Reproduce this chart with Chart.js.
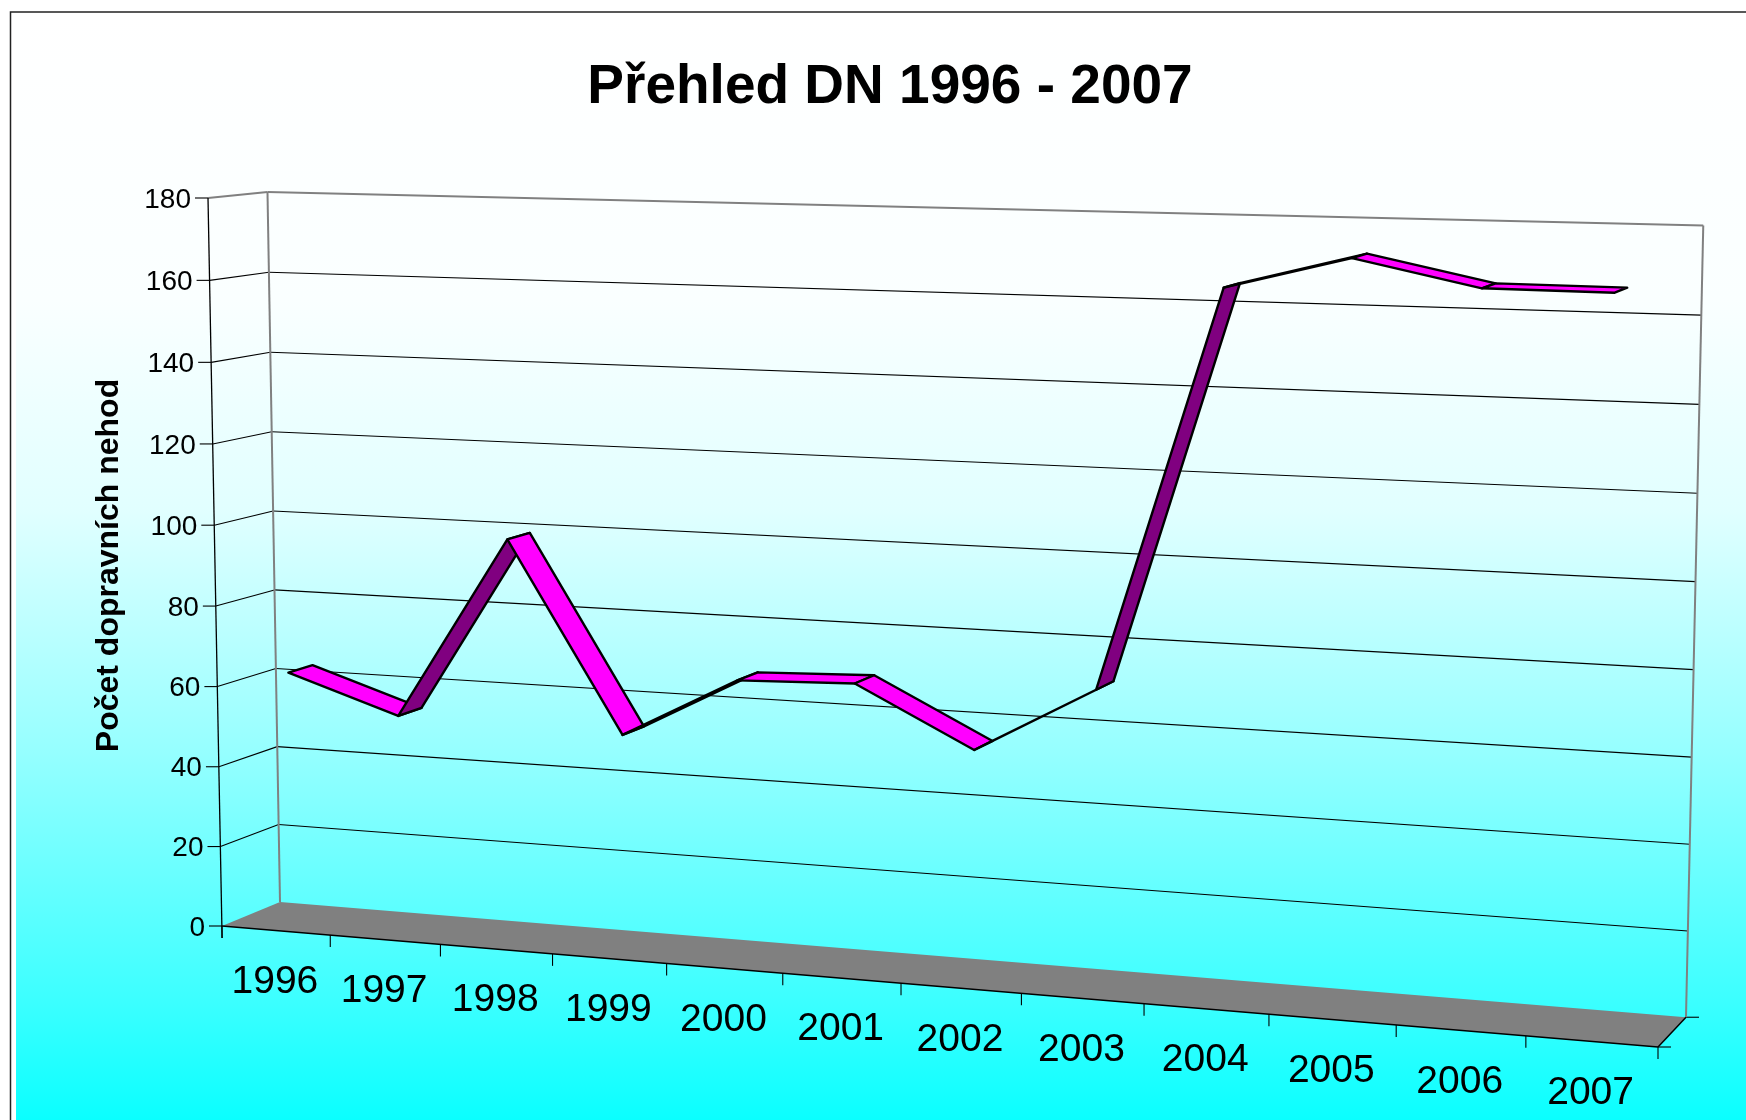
<!DOCTYPE html>
<html>
<head>
<meta charset="utf-8">
<title>Přehled DN 1996 - 2007</title>
<script src="https://cdn.jsdelivr.net/npm/chart.js@4"></script>
<style>
html,body{margin:0;padding:0;background:#fff}
canvas{display:block}
</style>
</head>
<body>
<canvas id="c" width="1746" height="1120"></canvas>
<script>
const categories = ['1996','1997','1998','1999','2000','2001','2002','2003','2004','2005','2006','2007'];
const accidents = [63,54,99,53,68,69,55,71,165,172.5,166.6,166.5];
const yTicks = [0,20,40,60,80,100,120,140,160,180];

const titleText = 'Přehled DN 1996 - 2007';
const yTitleText = 'Počet dopravních nehod';

// Perspective of the 3D box: corners of the box on the page and foreshortening terms.
const O = [222,926], U = [1658,1047], V = [208,198], D = [280,902];
const persp = {u:-0.103, v:-0.02, d:0.0234};
const ribbonDepth = [0.29,0.71];

function project(u,v,d){
  const w = 1 + persp.u*u + persp.v*v + persp.d*d;
  const f = k => (O[k] + u*((1+persp.u)*U[k]-O[k]) + v*((1+persp.v)*V[k]-O[k]) + d*((1+persp.d)*D[k]-O[k]))/w;
  return {x:f(0), y:f(1) + 1.5*v*d*(1-2*u)};
}

const GRID = {borderDash:[],borderDashOffset:0,tickBorderDash:[],tickBorderDashOffset:0};
function seg(a,b,c,col,wid,col2,wid2){
  return Object.assign({x1:a.x,y1:a.y,x2:b.x,y2:b.y,tx1:b.x,ty1:b.y,tx2:c.x,ty2:c.y,
    color:col,width:wid,tickColor:col2,tickWidth:wid2},GRID);
}

class WallY extends Chart.LinearScale {
  _computeLabelArea(){return undefined;}
  _dec(value){return (value-this.min)/(this.max-this.min);}
  _computeGridLineItems(){
    return this.ticks.map(t=>{
      const v = this._dec(t.value);
      const fl = project(0,v,0), bl = project(0,v,1), br = project(1,v,1);
      const top = t.value === 180, bottom = t.value === 0;
      const mark = {x:fl.x-13,y:fl.y};
      const wall = seg(fl,bl,br, bottom?'rgba(0,0,0,0)':(top?'#808080':'#000'), top?2:1.1, bottom?'rgba(0,0,0,0)':(top?'#808080':'#000'), top?2:1.1);
      const tick = {x1:mark.x,y1:mark.y,x2:fl.x,y2:fl.y,tx1:fl.x,ty1:fl.y,tx2:fl.x,ty2:fl.y,
        color:'#000',width:1.1,tickColor:'#000',tickWidth:0,...GRID};
      return [wall,tick];
    }).flat();
  }
  _computeLabelItems(area){
    const items = super._computeLabelItems(area);
    items.forEach((it,i)=>{
      const v = this._dec(this.ticks[i].value);
      const p = project(0,v,0);
      it.options.translation = [p.x-17,p.y+2];
      it.options.textAlign = 'right';
      it.options.textBaseline = 'middle';
      it.textOffset = 0;
    });
    return items;
  }
}
WallY.id = 'wallY';
WallY.defaults = Chart.LinearScale.defaults;

class FloorX extends Chart.CategoryScale {
  _computeLabelArea(){return undefined;}
  _computeGridLineItems(){
    const n = this.ticks.length, items = [];
    for(let i=0;i<=n;i++){
      const p = project(i/n,0,0);
      const q = {x:p.x,y:p.y+12};
      items.push({x1:p.x,y1:p.y,x2:q.x,y2:q.y,tx1:p.x,ty1:p.y,tx2:p.x,ty2:p.y,
        color:'#000',width:1.1,tickColor:'#000',tickWidth:0,...GRID});
    }
    [project(1,0,0),project(1,0,1)].forEach(p=>{
      items.push({x1:p.x,y1:p.y,x2:p.x+13,y2:p.y,tx1:p.x,ty1:p.y,tx2:p.x,ty2:p.y,
        color:'#000',width:1.1,tickColor:'#000',tickWidth:0,...GRID});
    });
    return items;
  }
  _computeLabelItems(area){
    const items = super._computeLabelItems(area);
    const n = this.ticks.length;
    items.forEach((it,i)=>{
      const p = project((i+0.5)/n,0,0);
      it.options.translation = [p.x-1,p.y+51.5];
      it.options.textAlign = 'center';
      it.options.textBaseline = 'middle';
      it.options.rotation = 0;
      it.textOffset = 0;
    });
    return items;
  }
}
FloorX.id = 'floorX';
FloorX.defaults = Chart.CategoryScale.defaults;

Chart.register(WallY,FloorX);

function poly(ctx,pts){
  ctx.beginPath();
  pts.forEach((p,i)=> i?ctx.lineTo(p.x,p.y):ctx.moveTo(p.x,p.y));
  ctx.closePath();
}
function line(ctx,a,b,col,w){
  ctx.strokeStyle=col;ctx.lineWidth=w;ctx.beginPath();ctx.moveTo(a.x,a.y);ctx.lineTo(b.x,b.y);ctx.stroke();
}

const slide = {
  id:'slide',
  beforeDraw(chart){
    const ctx = chart.ctx, H = chart.height;
    ctx.save();
    ctx.fillStyle='#fff';
    ctx.fillRect(0,0,chart.width,H);
    const g = ctx.createLinearGradient(0,12,0,H);
    [[12,255],[300,250],[510,225],[750,150],[1000,60],[1120,10]].forEach(([y,r])=>{
      g.addColorStop((y-12)/(H-12),`rgb(${r},255,255)`);
    });
    ctx.fillStyle=g;
    ctx.fillRect(16,12,chart.width-16,H-12);
    ctx.strokeStyle='#222';
    ctx.lineWidth=1.5;
    ctx.beginPath();
    ctx.moveTo(10.5,H);ctx.lineTo(10.5,12);ctx.lineTo(chart.width,12);
    ctx.stroke();
    ctx.restore();
  }
};

const box3d = {
  id:'box3d',
  beforeDatasetsDraw(chart){
    const ctx = chart.ctx;
    ctx.save();
    const flb=project(0,0,0), frb=project(1,0,0), blb=project(0,0,1), brb=project(1,0,1);
    const flt=project(0,1,0), blt=project(0,1,1), brt=project(1,1,1);
    ctx.fillStyle='#808080';
    poly(ctx,[flb,blb,brb,frb]);ctx.fill();
    line(ctx,blb,blt,'#808080',2);
    line(ctx,brb,brt,'#808080',2);
    line(ctx,{x:flb.x+0.1,y:flb.y+12},flt,'#000',1.3);
    line(ctx,flb,frb,'#000',1.5);
    line(ctx,frb,brb,'#000',1.5);
    ctx.restore();
  },
  afterDatasetsDraw(chart){
    const ctx = chart.ctx, meta = chart.getDatasetMeta(0), ca = chart.chartArea;
    const pts = meta.data.map(el=>{
      const u = (el.x-ca.left)/(ca.right-ca.left);
      const v = (ca.bottom-el.y)/(ca.bottom-ca.top);
      return {f:project(u,v,ribbonDepth[0]), b:project(u,v,ribbonDepth[1])};
    });
    ctx.save();
    ctx.lineJoin='round';
    ctx.lineWidth=2.4;
    ctx.strokeStyle='#000';
    for(let i=0;i<pts.length-1;i++){
      const q=[pts[i].f,pts[i+1].f,pts[i+1].b,pts[i].b];
      let area=0;
      q.forEach((p,k)=>{const n=q[(k+1)%4];area+=p.x*n.y-n.x*p.y;});
      ctx.fillStyle = area<0 ? '#ff00ff' : '#800080';
      poly(ctx,q);ctx.fill();ctx.stroke();
    }
    ctx.restore();
  }
};

new Chart(document.getElementById('c'),{
  type:'line',
  data:{labels:categories,datasets:[{label:yTitleText,data:accidents,showLine:false,pointRadius:0,borderWidth:0,borderColor:'#ff00ff',backgroundColor:'#ff00ff'}]},
  plugins:[slide,box3d],
  options:{
    responsive:false,
    animation:false,
    layout:{padding:{left:34,right:0,top:0,bottom:0}},
    plugins:{
      legend:{display:false},
      tooltip:{enabled:false},
      title:{display:true,text:titleText,color:'#000',
        font:{family:'"Liberation Sans",Arial,sans-serif',size:55,weight:'bold',lineHeight:1},
        padding:{top:60,bottom:90}}
    },
    scales:{
      x:{type:'floorX',offset:true,
        grid:{display:true,offset:true,drawOnChartArea:true,drawTicks:true},
        border:{display:false},
        ticks:{color:'#000',autoSkip:false,maxRotation:0,minRotation:0,
          font:{family:'"Liberation Sans",Arial,sans-serif',size:39}},
        afterFit(s){s.height=1120-926;}
      },
      y:{type:'wallY',min:0,max:180,
        afterBuildTicks(s){s.ticks=yTicks.map(v=>({value:v}));},
        grid:{display:true,drawOnChartArea:true,drawTicks:true},
        border:{display:false},
        ticks:{color:'#000',font:{family:'"Liberation Sans",Arial,sans-serif',size:28}},
        title:{display:true,text:yTitleText,color:'#000',
          font:{family:'"Liberation Sans",Arial,sans-serif',size:32,weight:'bold',lineHeight:1},
          padding:{top:59.5,bottom:0}},
        afterFit(s){s.width=222-34;}
      }
    }
  }
});
</script>
</body>
</html>
